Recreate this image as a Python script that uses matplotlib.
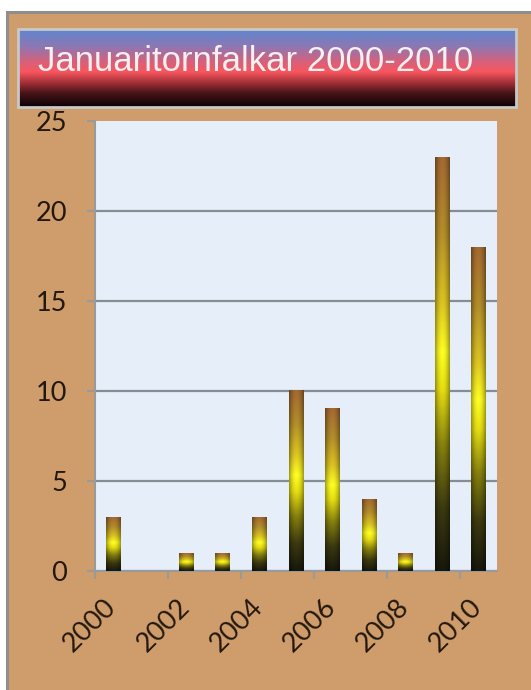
import numpy as np
import matplotlib.pyplot as plt
import matplotlib.transforms as mtransforms
from matplotlib.patches import Rectangle
from matplotlib.colors import LinearSegmentedColormap

# data
years = ['2000', '2001', '2002', '2003', '2004', '2005', '2006', '2007', '2008', '2009', '2010']
counts = [3, 0, 1, 1, 3, 10, 9, 4, 1, 23, 18]
title = 'Januaritornfalkar 2000-2010'

W, H = 531, 690
fig = plt.figure(figsize=(W / 100, H / 100), dpi=100)
fig.patch.set_facecolor('white')

# tan chart panel with a grey border (bottom/right run off the picture)
fig.patches.append(Rectangle((7 / W, -0.05), 1.1, 1.05 - 12 / H, transform=fig.transFigure,
                             facecolor='#CF9D6B', edgecolor='#8E8E8E', linewidth=2.2,
                             zorder=-5))

# title box with the blue -> red -> black gradient
tax = fig.add_axes([18 / W, 1 - 107 / H, 498 / W, 78 / H])
title_cmap = LinearSegmentedColormap.from_list('title', [
    (0.0, '#5F86CE'), (0.22, '#8C78B4'), (0.42, '#D8607A'), (0.55, '#F8565E'),
    (0.68, '#A8323A'), (0.82, '#4A1418'), (1.0, '#0A0206')])
tax.imshow(np.linspace(0, 1, 200).reshape(-1, 1), cmap=title_cmap, aspect='auto',
           extent=(0, 1, 0, 1))
tax.set_xlim(0, 1)
tax.set_ylim(0, 1)
tax.axis('off')
tax.add_patch(Rectangle((0, 0), 1, 1, transform=tax.transAxes, fill=False,
                        edgecolor='#C8C8C8', linewidth=2, clip_on=False))
fig.text(256 / W, 1 - 71 / H, title, color='#F4F0F0', fontsize=25,
         family='Liberation Sans', ha='center', va='baseline', zorder=10)

# plot area
ax = fig.add_axes([95 / W, 1 - 571 / H, 402 / W, 450 / H])
ax.set_facecolor('#E6EEF9')
x = np.arange(len(years))
bars = ax.bar(x, counts, width=0.41, color='none', zorder=3)

# bar fill: dark at the base, bright yellow in the middle, brown at the top
bar_cmap = LinearSegmentedColormap.from_list('bar', [
    (0.0, '#18180C'), (0.15, '#3C3A10'), (0.3, '#86800E'), (0.44, '#E8E012'),
    (0.53, '#FFFF22'), (0.65, '#DCC422'), (0.82, '#B48E2A'), (1.0, '#A46A32')])
vert = bar_cmap(np.linspace(0, 1, 160))[:, :3]
u = np.linspace(-1, 1, 30)
horiz = 0.62 + 0.38 * (1 - u ** 2)
for b in bars:
    h = b.get_height()
    if h <= 0:
        continue
    img = vert[:, None, :] * horiz[None, :, None]
    x0 = b.get_x()
    ax.imshow(img, extent=(x0, x0 + b.get_width(), 0, h), origin='lower',
              aspect='auto', zorder=3, interpolation='bilinear')

ax.set_xlim(-0.5, len(years) - 0.5)
ax.set_ylim(0, 25)

# axes styling
for side in ['top', 'right']:
    ax.spines[side].set_visible(False)
for side in ['left', 'bottom']:
    ax.spines[side].set_color('#9A9A9A')
    ax.spines[side].set_linewidth(1.5)

ax.set_yticks([0, 5, 10, 15, 20, 25])
ax.yaxis.grid(True, color='#868C94', linewidth=1.6)
ax.get_ygridlines()[-1].set_visible(False)
ax.set_axisbelow(True)
ax.tick_params(axis='y', length=6, width=1.5, color='#9A9A9A', pad=14,
               labelsize=19.5, labelcolor='#24180E')
for lab in ax.get_yticklabels():
    lab.set_family('Lato')

ax.set_xticks(x[::2])
ax.set_xticklabels(years[::2], rotation=45, ha='right', va='top',
                   family='Lato', fontsize=19.5, color='#24180E')
ax.set_xticks(np.arange(-0.5, len(years) - 1, 2), minor=True)
ax.tick_params(axis='x', which='major', length=0, pad=17)
ax.tick_params(axis='x', which='minor', length=6, width=1.5, color='#9A9A9A')
shift = mtransforms.ScaledTranslation(8 / 100, 0, fig.dpi_scale_trans)
for lab in ax.get_xticklabels():
    lab.set_transform(lab.get_transform() + shift)

fig.savefig('out.png', dpi=100)
